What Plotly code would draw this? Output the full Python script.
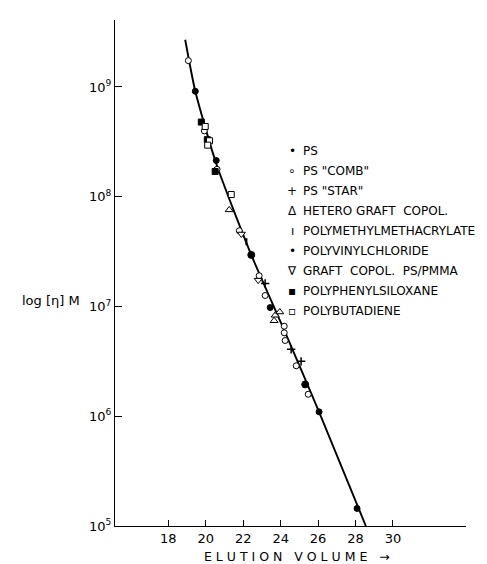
import plotly.graph_objects as go

# ---- data (elution volume, log10([eta]M)) ----
curve_x = [18.9, 19.44, 20.56, 22.43, 24.2, 26.05, 28.55]
curve_logm = [9.43, 8.96, 8.30, 7.47, 6.78, 6.04, 5.00]

ps_x = [19.44, 20.56, 23.44, 26.05, 28.08]
ps_logm = [8.96, 8.33, 6.99, 6.04, 5.16]

comb_x = [19.07, 19.92, 20.60, 21.79, 22.85, 23.17, 24.19, 24.19, 24.24, 24.83, 25.47]
comb_logm = [9.24, 8.60, 8.25, 7.69, 7.28, 7.10, 6.82, 6.76, 6.69, 6.46, 6.20]

star_x = [23.17, 24.56, 25.09]
star_logm = [7.21, 6.61, 6.50]

hetero_x = [21.25, 23.65, 23.71, 23.95]
hetero_logm = [7.88, 6.87, 6.92, 6.95]

pmma_x = [22.17]
pmma_logm = [7.59]

pvc_x = [22.43, 25.31]
pvc_logm = [7.47, 6.29]

graft_x = [21.90, 22.80]
graft_logm = [7.66, 7.24]

pps_x = [19.76, 20.08, 20.50]
pps_logm = [8.68, 8.52, 8.23]

pb_x = [19.97, 20.20, 20.10, 21.36]
pb_logm = [8.64, 8.51, 8.47, 8.02]

legend_labels = ['PS', 'PS "COMB"', 'PS "STAR"', 'HETERO\u00a0GRAFT\u00a0\u00a0COPOL.',
                 'POLYMETHYLMETHACRYLATE', 'POLYVINYLCHLORIDE',
                 'GRAFT\u00a0\u00a0COPOL.\u00a0\u00a0PS/PMMA', 'POLYPHENYLSILOXANE', 'POLYBUTADIENE']
legend_symbols = ['•', '∘', '+', 'Δ', 'ı', '•', '∇', '▪', '▫']

x_ticks = [18, 20, 22, 24, 26, 28, 30]
y_tick_exps = [5, 6, 7, 8, 9]

FONT = "DejaVu Sans"

def pw(v):
    return [10 ** e for e in v]

fig = go.Figure()
fig.add_trace(go.Scatter(x=curve_x, y=pw(curve_logm), mode="lines",
                         line=dict(color="black", width=1.9, shape="spline", smoothing=0.6),
                         hoverinfo="skip"))

def add_pts(xs, ls, symbol, fill, size=6, lw=1.0):
    fig.add_trace(go.Scatter(x=xs, y=pw(ls), mode="markers",
                             marker=dict(symbol=symbol, size=size, color=fill,
                                         line=dict(color="black", width=lw))))

add_pts(ps_x, ps_logm, "circle", "black", 6)
add_pts(comb_x, comb_logm, "circle", "white", 6)
add_pts(star_x, star_logm, "cross-thin", "black", 6, 1.5)
add_pts(hetero_x, hetero_logm, "triangle-up", "white", 7)
add_pts(pmma_x, pmma_logm, "line-ns", "black", 5, 2)
add_pts(pvc_x, pvc_logm, "circle", "black", 7)
add_pts(graft_x, graft_logm, "triangle-down", "white", 7)
add_pts(pps_x, pps_logm, "square", "black", 6)
add_pts(pb_x, pb_logm, "square", "white", 6)

# manual legend (text)
L, R, T, B = 107, 29, 12, 46
W, H = 487, 564
pwid, phei = W - L - R, H - T - B
def px2paper_x(px):
    return (px - L) / pwid
def py2paper_y(py):
    return 1 - (py - T) / phei

ann = []
for i, (s, lab) in enumerate(zip(legend_symbols, legend_labels)):
    yy = 143 + i * 20
    ann.append(dict(x=px2paper_x(284), y=py2paper_y(yy), xref="paper", yref="paper",
                    text=s, showarrow=False, xanchor="center", yanchor="middle",
                    font=dict(family=FONT, size=12, color="black")))
    ann.append(dict(x=px2paper_x(293), y=py2paper_y(yy), xref="paper", yref="paper",
                    text=lab, showarrow=False, xanchor="left", yanchor="middle",
                    font=dict(family=FONT, size=12, color="black")))

ann.append(dict(x=px2paper_x(74), y=py2paper_y(292), xref="paper", yref="paper",
                text="log [η] M", showarrow=False, xanchor="right", yanchor="middle",
                font=dict(family=FONT, size=13, color="black")))
ann.append(dict(x=px2paper_x(289), y=py2paper_y(548), xref="paper", yref="paper",
                text="E L U T I O N   V O L U M E   →", showarrow=False,
                xanchor="center", yanchor="middle",
                font=dict(family=FONT, size=12.5, color="black")))

fig.update_layout(
    width=W, height=H,
    margin=dict(l=L, r=R, t=T, b=B, pad=0),
    paper_bgcolor="white", plot_bgcolor="white",
    showlegend=False,
    annotations=ann,
    font=dict(family=FONT, size=13, color="black"),
)
fig.update_xaxes(range=[15.15, 33.9], showline=True, linecolor="black", linewidth=1.3,
                 showgrid=False, zeroline=False, ticks="inside", ticklen=6,
                 tickcolor="black", tickwidth=1.2, tickvals=x_ticks,
                 ticktext=[str(v) for v in x_ticks], tickfont=dict(size=13))
fig.update_yaxes(type="log", range=[5, 9.61], showline=True, linecolor="black", linewidth=1.3,
                 showgrid=False, zeroline=False, ticks="inside", ticklen=7,
                 tickcolor="black", tickwidth=1.2,
                 tickvals=[10 ** e for e in y_tick_exps],
                 ticktext=[f"10<sup>{e}</sup>" for e in y_tick_exps],
                 tickfont=dict(size=13))

fig.write_html("out.html")
